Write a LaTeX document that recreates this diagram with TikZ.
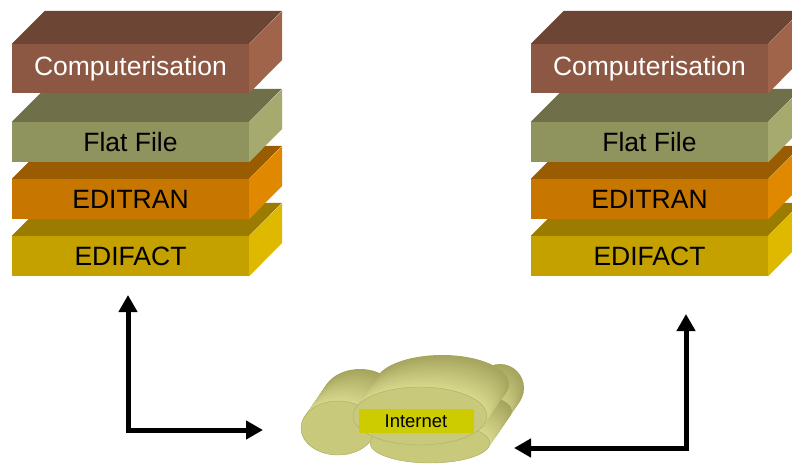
\documentclass[tikz,border=0pt]{standalone}
\usepackage{fontspec}
\setmainfont{Liberation Sans}
\usepackage{xcolor}
\usetikzlibrary{arrows.meta}
\definecolor{compF}{HTML}{8C5843}
\definecolor{compT}{HTML}{6C4535}
\definecolor{compS}{HTML}{A0644B}
\definecolor{flatF}{HTML}{8F935E}
\definecolor{flatT}{HTML}{6F7049}
\definecolor{flatS}{HTML}{A7AA6F}
\definecolor{editranF}{HTML}{C77600}
\definecolor{editranT}{HTML}{9A5C00}
\definecolor{editranS}{HTML}{E08900}
\definecolor{edifactF}{HTML}{C5A100}
\definecolor{edifactT}{HTML}{9B7B00}
\definecolor{edifactS}{HTML}{DFB800}
\definecolor{clouddark}{HTML}{A5A55E}
\definecolor{cloudlite}{HTML}{DADA8E}
\definecolor{cloudface}{HTML}{C9C97C}
\definecolor{netbox}{HTML}{CCCC00}

\begin{document}
\begin{tikzpicture}[x=1pt,y=-1pt,
  face/.style={minimum width=237pt, inner sep=0pt, font=\fontsize{26.5}{30}\selectfont},
  link/.style={line width=5pt, {Triangle[length=17pt,width=18pt]}-{Triangle[length=17pt,width=18pt]}}]
  \clip (0,0) rectangle (792,465);

  % Two stacks, bottom layer first
  \foreach \sx/\sn in {12/L,531/R} {
    \foreach \lname/\ly/\lh/\ltext/\lc/\lt in {edifact/256/40/EDIFACT/edifact/black,
        editran/199/40/EDITRAN/editran/black, flat/142/40/Flat File/flat/black,
        comp/68.5/49/Computerisation/comp/white} {
      \node[face, minimum height=\lh pt, fill=\lc F, text=\lt] (\lname\sn) at (\sx+118.5,\ly) {\ltext};
      \fill[\lc T] (\lname\sn.north west) -- ++(33,-33) -- ++(237,0) -- (\lname\sn.north east) -- cycle;
      \fill[\lc S] (\lname\sn.north east) -- ++(33,-33) -- ++(0,\lh) -- (\lname\sn.south east) -- cycle;
    }
  }

  % Cloud lobes, back to front
  \foreach \cx/\cy/\rx/\ry in {478/420/24/24, 338/428/37/27, 430/443/60/20, 420/416/67/29} {
    \foreach \t in {0,...,24} {
      \pgfmathsetmacro\k{1-\t/24}
      \pgfmathtruncatemacro\pct{100*\t/24}
      \fill[cloudlite!\pct!clouddark] (\cx+22*\k,\cy-32*\k) ellipse[x radius=\rx pt, y radius=\ry pt];
    }
    \fill[cloudface] (\cx,\cy) ellipse[x radius=\rx pt, y radius=\ry pt];
    \draw[cloudface!85!black, thin] (\cx,\cy) ellipse[x radius=\rx pt, y radius=\ry pt];
  }
  \node[fill=netbox, minimum width=115pt, minimum height=24pt, inner sep=0pt,
    font=\fontsize{18.5}{20}\selectfont] (net) at (416,421) {Internet};

  % Arrows
  \coordinate (lup) at (128,295);
  \coordinate (lnet) at (263,430);
  \coordinate (rup) at (686,314);
  \coordinate (rnet) at (514,448);
  \draw[link] (lup) |- (lnet);
  \draw[link] (rup) |- (rnet);
\end{tikzpicture}
\end{document}
